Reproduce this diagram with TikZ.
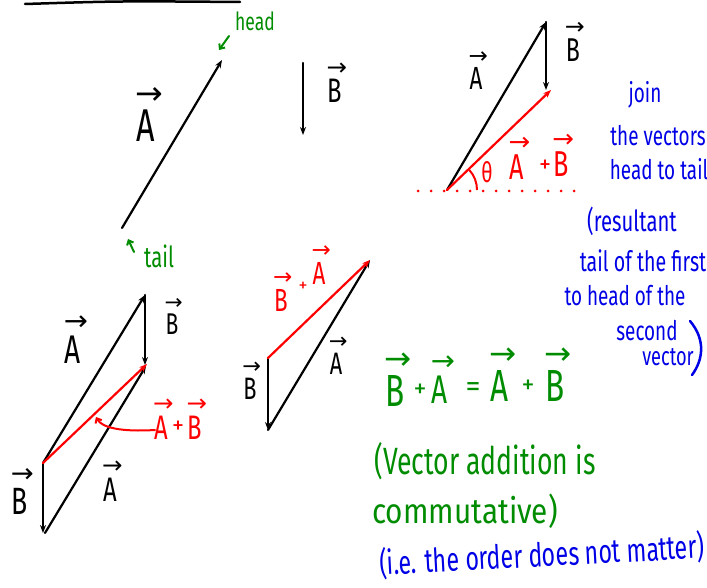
\documentclass[tikz,border=0pt]{standalone}
\usepackage{fontspec}
\setmainfont{Fira Sans}
\newfontfamily\arrowfont{DejaVu Sans}
\usetikzlibrary{arrows.meta}
\definecolor{hgreen}{RGB}{0,140,0}
\definecolor{hblue}{RGB}{0,0,230}
\definecolor{hred}{RGB}{255,0,0}
\newcommand\nar[1]{\scalebox{0.7}[1]{#1}}
\newcommand\VA[1]{\makebox[0pt][l]{\hspace{-0.03em}\raisebox{0.82em}{\arrowfont\scalebox{0.72}[0.7]{→}}}\nar{#1}}
\tikzset{
  vec/.style={line width=2.2pt, line cap=round, -{Stealth[length=8pt,width=6pt]}},
  fs/.style={font=\fontsize{#1}{#1}\selectfont},
  vl/.style={anchor=base, inner sep=0pt, outer sep=0pt},
  txt/.style={inner sep=0pt},
  barb/.style={line width=2pt, line cap=round, -{Straight Barb[length=4pt,width=7pt]}}
}
\begin{document}
\begin{tikzpicture}[x=1pt,y=-1pt]
\useasboundingbox (0,0) rectangle (707,588);
% top rule
\coordinate (r1) at (25,4); \coordinate (r2) at (240,2);
\draw[line width=2.5pt, line cap=round] (r1) .. controls (120,1) .. (r2);

% ---- single vectors
\coordinate (a1t) at (122,228); \coordinate (a1h) at (222,60);
\draw[vec] (a1t) -- (a1h);
\coordinate (b1t) at (303,63); \coordinate (b1h) at (303,135);
\draw[vec] (b1t) -- (b1h);
\node[vl, fs=46] (la1) at (146,142) {\VA{A}};
\node[vl, fs=34] (lb1) at (335,103) {\VA{B}};
\node[txt, hgreen, fs=25] (head) at (255,21) {\nar{head}};
\node[txt, hgreen, fs=29] (tail) at (159,256) {\nar{tail}};
\coordinate (hh1) at (229,36); \coordinate (hh2) at (219,50);
\draw[hgreen, barb] (hh1) -- (hh2);
\coordinate (tt1) at (134,252); \coordinate (tt2) at (128,239);
\draw[hgreen, barb] (tt1) -- (tt2);

% ---- triangle top right
\coordinate (p0) at (447,190); \coordinate (p1) at (546,22); \coordinate (p2) at (546,90);
\draw[red, line width=3pt, line cap=round, dash pattern=on 0pt off 13pt] (418,191) -- (576,191);
\draw[vec] (p0) -- (p1);
\draw[vec] (p1) -- (p2);
\draw[vec, hred] (p0) -- (551,90);
\draw[hred, line width=2pt] (477,190) arc[start angle=0, end angle=-42, radius=30];
\node[vl, fs=32] (la2) at (476,90) {\VA{A}};
\node[vl, fs=33] (lb2) at (573,62) {\VA{B}};
\node[txt, hred, fs=28] (th) at (487,172) {\nar{θ}};
\node[vl, hred, fs=36] (ra2) at (517,180) {\VA{A}};
\node[txt, hred, fs=24] (rp2) at (545,166) {+};
\node[vl, hred, fs=36] (rb2) at (561,177) {\VA{B}};

% ---- blue notes right
\node[txt, hblue, fs=27] (n1) at (645,95) {\nar{join}};
\node[txt, hblue, fs=27] (n2) at (658,136) {\nar{the vectors}};
\node[txt, hblue, fs=27] (n3) at (659,169) {\nar{head to tail}};
\node[txt, hblue, fs=29] (n4) at (632,221) {\nar{(resultant}};
\node[txt, hblue, fs=28] (n5) at (643,261) {\nar{tail of the first}};
\node[txt, hblue, fs=27] (n6) at (625,296) {\nar{to head of the}};
\node[txt, hblue, fs=27] (n7) at (647,331) {\nar{second}};
\node[txt, hblue, fs=26] (n8) at (668,357) {\nar{vector}};
\coordinate (pa1) at (690,321); \coordinate (pa2) at (692,375);
\draw[hblue, line width=2.5pt, line cap=round] (pa1) .. controls (706,340) and (703,360) .. (pa2);

% ---- parallelogram bottom left
\coordinate (q0) at (43,463); \coordinate (q1) at (145,295); \coordinate (q2) at (145,365);
\coordinate (q3) at (43,533); \coordinate (q4) at (45,533); \coordinate (q5) at (146,366);
\draw[vec] (q0) -- (q1);
\draw[vec] (q1) -- (q2);
\draw[vec] (q0) -- (q3);
\draw[vec] (q4) -- (q5);
\draw[vec, hred] (q0) -- (147,364);
\node[vl, fs=40] (la3) at (73,363) {\VA{A}};
\node[vl, fs=30] (lb3) at (172,334) {\VA{B}};
\node[vl, fs=38] (lb4) at (20,514) {\VA{B}};
\node[vl, fs=34] (la4) at (110,501) {\VA{A}};
\node[vl, hred, fs=34] (ra3) at (161,439) {\VA{A}};
\node[txt, hred, fs=24] (rp3) at (178,427) {+};
\node[vl, hred, fs=34] (rb3) at (195,439) {\VA{B}};
\coordinate (c1) at (155,430); \coordinate (c2) at (96,417);
\draw[hred, barb] (c1) .. controls (122,432) and (102,428) .. (c2);

% ---- middle triangle
\coordinate (m0) at (268,358); \coordinate (m1) at (268,430); \coordinate (m2) at (370,260);
\draw[vec] (m0) -- (m1);
\draw[vec] (m1) -- (m2);
\draw[vec, hred] (m0) -- (m2);
\node[vl, fs=31] (lb5) at (250,399) {\VA{B}};
\node[vl, fs=31] (la5) at (336,374) {\VA{A}};
\node[vl, hred, fs=32] (rb5) at (281,311) {\VA{B}};
\node[txt, hred, fs=18] (rp5) at (303,287) {+};
\node[vl, hred, fs=32] (ra5) at (319,284) {\VA{A}};

% ---- green equation
\node[vl, hgreen, fs=45] (e1) at (395,406) {\VA{B}};
\node[txt, hgreen, fs=26] (e2) at (420,391) {+};
\node[vl, hgreen, fs=40] (e3) at (440,403) {\VA{A}};
\node[txt, hgreen, fs=30] (e4) at (473,390) {=};
\node[vl, hgreen, fs=45] (e5) at (500,401) {\VA{A}};
\node[txt, hgreen, fs=26] (e6) at (528,387) {+};
\node[vl, hgreen, fs=45] (e7) at (555,401) {\VA{B}};

\node[txt, hgreen, fs=38] (g1) at (485,461) {\nar{(Vector addition is}};
\node[txt, hgreen, fs=35] (g2) at (465,511) {\scalebox{0.85}[1]{commutative)}};
\node[txt, hblue, fs=33, rotate=3] (g3) at (542,555) {\nar{(i.e. the order does not matter)}};
\end{tikzpicture}
\end{document}
